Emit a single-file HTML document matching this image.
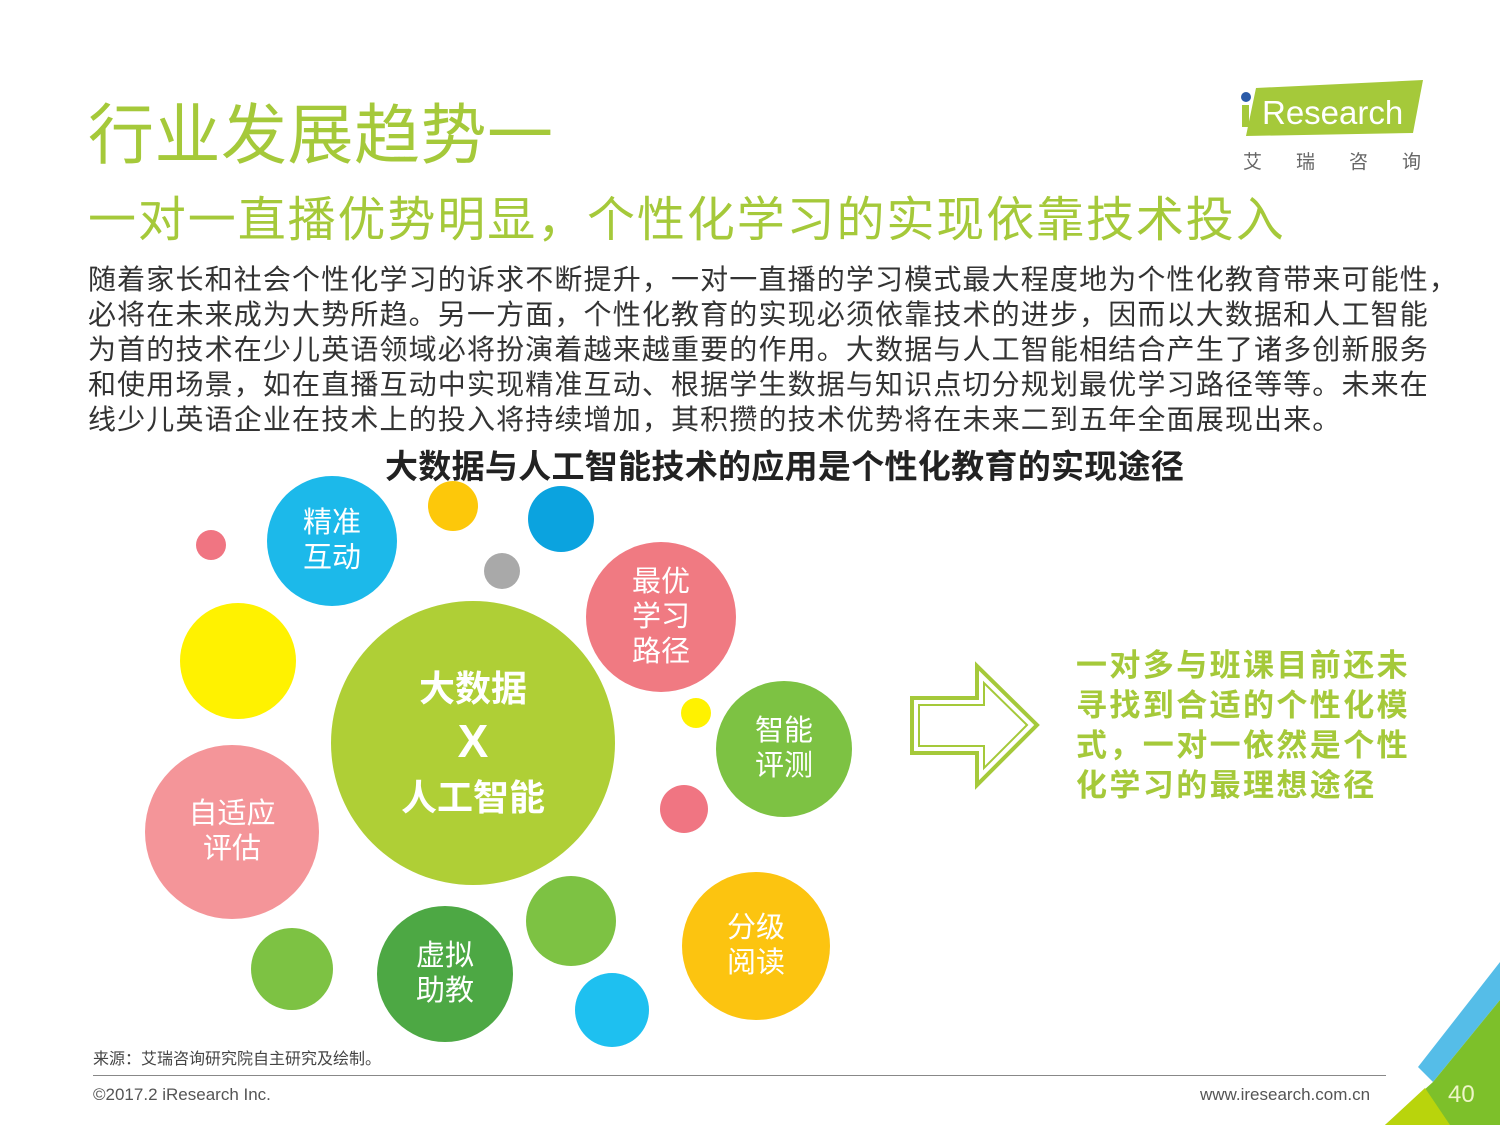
<!DOCTYPE html><html><head><meta charset="utf-8"><style>
body{margin:0;width:1500px;height:1125px;background:#fff;position:relative;overflow:hidden;font-family:"Liberation Sans","Noto Sans CJK SC",sans-serif}
.a{position:absolute;white-space:nowrap}
.c{position:absolute;border-radius:50%;display:flex;align-items:center;justify-content:center;text-align:center;color:#fff;font-size:29px;line-height:35px}
</style></head><body>
<div class="a" style="left:88px;top:82px;font-size:66px;color:#a5c93a;letter-spacing:0.5px">行业发展趋势一</div>
<div class="a" style="left:88px;top:180px;font-size:48px;color:#a5c93a;letter-spacing:1.9px">一对一直播优势明显，个性化学习的实现依靠技术投入</div>
<div class="a" style="left:88px;top:262px;font-size:28px;line-height:35px;color:#333;letter-spacing:1.15px">随着家长和社会个性化学习的诉求不断提升，一对一直播的学习模式最大程度地为个性化教育带来可能性，<br>必将在未来成为大势所趋。另一方面，个性化教育的实现必须依靠技术的进步，因而以大数据和人工智能<br>为首的技术在少儿英语领域必将扮演着越来越重要的作用。大数据与人工智能相结合产生了诸多创新服务<br>和使用场景，如在直播互动中实现精准互动、根据学生数据与知识点切分规划最优学习路径等等。未来在<br>线少儿英语企业在技术上的投入将持续增加，其积攒的技术优势将在未来二到五年全面展现出来。</div>
<div class="a" style="left:385px;top:440px;font-size:33px;font-weight:bold;color:#222;letter-spacing:0.3px">大数据与人工智能技术的应用是个性化教育的实现途径</div>
<svg class="a" style="left:1238px;top:78px" width="190" height="65"><polygon points="18,10 185,2 175,55 8,58" fill="#a5c93a"/><circle cx="8" cy="19" r="5" fill="#2a5aa8"/><rect x="4" y="27" width="7" height="22" fill="#a5c93a"/><text x="24" y="46" font-family="Liberation Sans" font-size="33" fill="#fff">Research</text></svg>
<div class="a" style="left:1243px;top:147px;font-size:19px;color:#666;letter-spacing:34px">艾瑞咨询</div>
<div class="c" style="left:267px;top:476px;width:130px;height:130px;background:#1cb9ea"><div>精准<br>互动</div></div>
<div class="c" style="left:428px;top:481px;width:50px;height:50px;background:#fdc80a"></div>
<div class="c" style="left:528px;top:486px;width:66px;height:66px;background:#0ba3df"></div>
<div class="c" style="left:196px;top:530px;width:30px;height:30px;background:#f07582"></div>
<div class="c" style="left:484px;top:553px;width:36px;height:36px;background:#a9a9a9"></div>
<div class="c" style="left:180px;top:603px;width:116px;height:116px;background:#fff200"></div>
<div class="c" style="left:586px;top:542px;width:150px;height:150px;background:#f07a82"><div>最优<br>学习<br>路径</div></div>
<div class="c" style="left:331px;top:601px;width:284px;height:284px;background:#afcf36;font-weight:bold;font-size:36px;line-height:53px"><div>大数据<br><span style="font-size:46px">X</span><br>人工智能</div></div>
<div class="c" style="left:681px;top:698px;width:30px;height:30px;background:#fff200"></div>
<div class="c" style="left:716px;top:681px;width:136px;height:136px;background:#7dc243"><div>智能<br>评测</div></div>
<div class="c" style="left:660px;top:785px;width:48px;height:48px;background:#f07582"></div>
<div class="c" style="left:145px;top:745px;width:174px;height:174px;background:#f49599"><div>自适应<br>评估</div></div>
<div class="c" style="left:251px;top:928px;width:82px;height:82px;background:#7dc243"></div>
<div class="c" style="left:377px;top:906px;width:136px;height:136px;background:#4da844"><div>虚拟<br>助教</div></div>
<div class="c" style="left:526px;top:876px;width:90px;height:90px;background:#7dc243"></div>
<div class="c" style="left:682px;top:872px;width:148px;height:148px;background:#fcc410"><div>分级<br>阅读</div></div>
<div class="c" style="left:575px;top:973px;width:74px;height:74px;background:#1ec0f0"></div>
<svg class="a" style="left:905px;top:658px" width="140" height="135"><polygon points="7,40 72,40 72,8 132,67 72,127 72,95 7,95" fill="none" stroke="#a5c93a" stroke-width="4"/><polygon points="14,47 79,47 79,25 122,67 79,110 79,88 14,88" fill="none" stroke="#a5c93a" stroke-width="2"/></svg>
<div class="a" style="left:1076px;top:646px;font-size:31px;line-height:40px;font-weight:bold;color:#a5c93a;letter-spacing:2.4px">一对多与班课目前还未<br>寻找到合适的个性化模<br>式，一对一依然是个性<br>化学习的最理想途径</div>
<div class="a" style="left:93px;top:1045px;font-size:16px;color:#444">来源：艾瑞咨询研究院自主研究及绘制。</div>
<div class="a" style="left:93px;top:1075px;width:1293px;height:1px;background:#888"></div>
<div class="a" style="left:93px;top:1085px;font-size:17px;color:#555">©2017.2 iResearch Inc.</div>
<div class="a" style="left:1200px;top:1085px;font-size:17px;color:#555">www.iresearch.com.cn</div>
<svg class="a" style="left:1380px;top:950px" width="120" height="175"><polygon points="38,117 120,12 120,50 53,132" fill="#55bde8"/><polygon points="53,132 120,50 120,175 5,175" fill="#7dc02a"/><polygon points="5,175 45,138 70,175" fill="#b9d40c"/><text x="68" y="152" font-family="Liberation Sans" font-size="24" fill="#eef5c8">40</text></svg>
</body></html>
